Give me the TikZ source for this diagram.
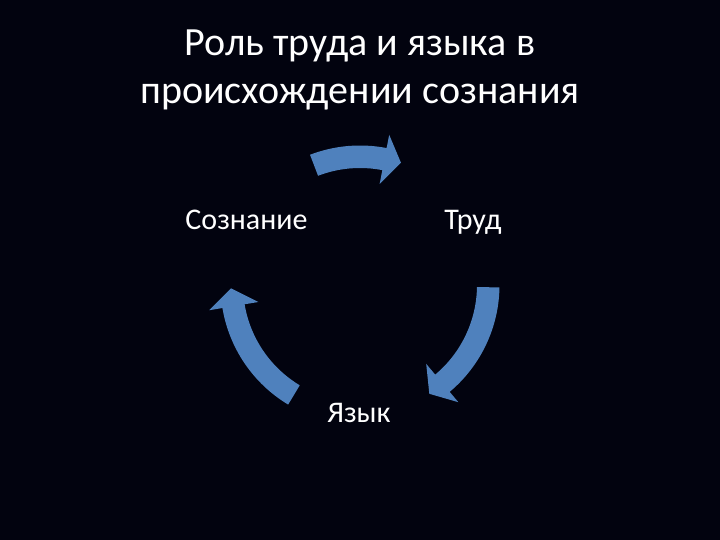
\documentclass[tikz,border=0pt]{standalone}
\usepackage{fontspec}
\setmainfont{Carlito}
\definecolor{bgc}{RGB}{2,3,15}
\definecolor{arrc}{RGB}{79,129,189}
\newcommand{\cycarrow}[3]{%
  \fill[arrc] (C) ++(#1:139.5) arc[start angle=#1,end angle=#2,radius=139.5]
    -- ($(C)+(#2:153)$) -- ($(C)+(#3:129)$) -- ($(C)+(#2:103)$) -- ($(C)+(#2:117)$)
    arc[start angle=#2,end angle=#1,radius=117] -- cycle;}
\usetikzlibrary{calc}
\begin{document}
\begin{tikzpicture}[x=1pt,y=1pt,
  titletext/.style={text=white,font=\fontsize{40}{48}\selectfont,anchor=base,inner sep=0pt},
  labeltext/.style={text=white,font=\fontsize{30}{36}\selectfont,anchor=base,inner sep=0pt}]
\fill[bgc] (0,0) rectangle (720,540);
\useasboundingbox (0,0) rectangle (720,540);
\coordinate (C) at (360,255);
\node[titletext] (title1) at (360,484) {Роль труда и языка в};
\node[titletext] (title2) at (360,436) {происхождении сознания};
\node[labeltext] (soz) at (246.5,310) {Сознание};
\node[labeltext] (trud) at (473,310) {Труд};
\node[labeltext] (yaz) at (359,117) {Язык};
\cycarrow{111}{79}{71.5}
\cycarrow{-1}{-50}{-57.5}
\cycarrow{239}{189.5}{181.5}
\end{tikzpicture}
\end{document}
